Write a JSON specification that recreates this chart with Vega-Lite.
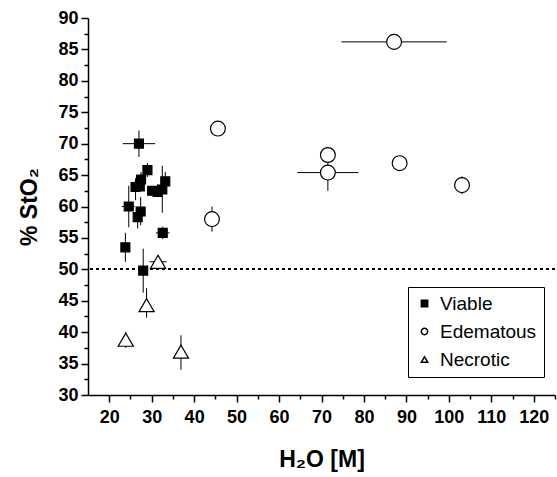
{
  "$schema": "https://vega.github.io/schema/vega-lite/v6.json",
  "width": 467,
  "height": 377,
  "autosize": {"type": "none"},
  "padding": {"left": 88, "top": 18, "right": 2, "bottom": 82},
  "background": "white",
  "config": {
    "view": {"stroke": null},
    "axis": {
      "labelFont": "Liberation Sans",
      "labelFontWeight": "bold",
      "labelFontSize": 18,
      "labelColor": "black",
      "titleFont": "Liberation Sans",
      "titleFontWeight": "bold",
      "titleFontSize": 23,
      "titleColor": "black",
      "domainColor": "black",
      "domainWidth": 1.5,
      "tickColor": "black",
      "tickWidth": 1.5,
      "tickSize": 7,
      "grid": false
    },
    "legend": {
      "labelFont": "Liberation Sans",
      "labelFontSize": 19,
      "labelColor": "black"
    }
  },
  "data": {
    "values": [
      {"type": "Viable", "x": 27.0, "y": 70.0, "xlo": 23.2, "xhi": 30.8, "ylo": 67.9, "yhi": 72.1},
      {"type": "Viable", "x": 29.0, "y": 65.8, "xlo": 28.3, "xhi": 29.7, "ylo": 64.7, "yhi": 66.9},
      {"type": "Viable", "x": 27.5, "y": 64.3, "ylo": 63.0, "yhi": 65.5},
      {"type": "Viable", "x": 26.2, "y": 63.1, "ylo": 61.0, "yhi": 64.5},
      {"type": "Viable", "x": 27.2, "y": 63.2},
      {"type": "Viable", "x": 33.2, "y": 64.0, "ylo": 62.5, "yhi": 65.5},
      {"type": "Viable", "x": 30.1, "y": 62.5, "xlo": 29.0, "xhi": 31.5},
      {"type": "Viable", "x": 31.4, "y": 62.3, "ylo": 61.5, "yhi": 63.5},
      {"type": "Viable", "x": 32.5, "y": 62.7, "ylo": 59.0, "yhi": 66.5},
      {"type": "Viable", "x": 24.6, "y": 60.0, "xlo": 23.0, "xhi": 26.0, "ylo": 56.7, "yhi": 63.3},
      {"type": "Viable", "x": 27.4, "y": 59.2, "ylo": 57.0, "yhi": 61.5},
      {"type": "Viable", "x": 26.7, "y": 58.3, "ylo": 56.5, "yhi": 60.0},
      {"type": "Viable", "x": 32.6, "y": 55.8, "xlo": 31.0, "xhi": 34.2, "ylo": 54.8, "yhi": 56.8},
      {"type": "Viable", "x": 23.8, "y": 53.5, "ylo": 51.2, "yhi": 55.8},
      {"type": "Viable", "x": 28.0, "y": 49.8, "ylo": 46.3, "yhi": 53.3},
      {"type": "Edematous", "x": 87.1, "y": 86.2, "xlo": 74.7, "xhi": 99.5, "ylo": 85.2, "yhi": 87.0},
      {"type": "Edematous", "x": 71.5, "y": 68.2, "ylo": 67.3, "yhi": 69.5},
      {"type": "Edematous", "x": 71.5, "y": 65.4, "xlo": 64.3, "xhi": 78.7, "ylo": 62.5, "yhi": 68.0},
      {"type": "Edematous", "x": 88.4, "y": 66.9, "xlo": 87.0, "xhi": 89.8, "ylo": 66.3, "yhi": 67.5},
      {"type": "Edematous", "x": 103.1, "y": 63.4, "ylo": 62.0, "yhi": 64.8},
      {"type": "Edematous", "x": 45.6, "y": 72.4, "ylo": 71.5, "yhi": 73.3},
      {"type": "Edematous", "x": 44.2, "y": 58.0, "ylo": 56.0, "yhi": 60.0},
      {"type": "Necrotic", "x": 28.8, "y": 44.3, "ylo": 42.3, "yhi": 47.0},
      {"type": "Necrotic", "x": 23.9, "y": 38.8, "ylo": 37.5, "yhi": 40.0},
      {"type": "Necrotic", "x": 36.9, "y": 36.9, "ylo": 34.0, "yhi": 39.5},
      {"type": "Necrotic", "x": 31.5, "y": 51.2, "xlo": 29.5, "xhi": 33.5}
    ]
  },
  "layer": [
    {
      "mark": {"type": "rule", "color": "black", "strokeDash": [3, 3], "strokeWidth": 0.8},
      "encoding": {
        "y": {"datum": 50, "type": "quantitative", "scale": {"domain": [30, 90], "nice": false, "zero": false}, "axis": null}
      }
    },
    {
      "transform": [{"filter": "isValid(datum.xlo)"}],
      "mark": {"type": "rule", "color": "black", "strokeWidth": 1},
      "encoding": {
        "x": {"field": "xlo", "type": "quantitative", "scale": {"domain": [15, 125], "nice": false, "zero": false},
              "axis": {"title": "H₂O [M]", "values": [20, 30, 40, 50, 60, 70, 80, 90, 100, 110, 120], "labelPadding": 6, "titlePadding": 22}},
        "x2": {"field": "xhi"},
        "y": {"field": "y", "type": "quantitative", "scale": {"domain": [30, 90], "nice": false, "zero": false},
              "axis": {"title": "% StO₂", "values": [30, 35, 40, 45, 50, 55, 60, 65, 70, 75, 80, 85, 90], "labelPadding": 3, "titlePadding": 16}}
      }
    },
    {
      "transform": [{"filter": "isValid(datum.ylo)"}],
      "mark": {"type": "rule", "color": "black", "strokeWidth": 1},
      "encoding": {
        "x": {"field": "x", "type": "quantitative", "axis": null},
        "y": {"field": "ylo", "type": "quantitative", "axis": null},
        "y2": {"field": "yhi"}
      }
    },
    {
      "transform": [{"filter": "datum.type === 'Viable'"}],
      "mark": {"type": "point", "filled": true, "stroke": "black", "strokeWidth": 1.2, "opacity": 1, "size": 80},
      "encoding": {
        "x": {"field": "x", "type": "quantitative", "axis": null},
        "y": {"field": "y", "type": "quantitative", "axis": null},
        "shape": {"field": "type", "type": "nominal", "title": null,
                  "scale": {"domain": ["Viable", "Edematous", "Necrotic"], "range": ["square", "circle", "triangle-up"]},
                  "legend": {"orient": "none", "legendX": 320, "legendY": 269, "strokeColor": "black", "padding": 7,
                             "symbolSize": 40, "rowPadding": 8, "labelOffset": 6, "symbolOffset": 0,
                             "encode": {"symbols": {"update": {"stroke": {"value": "black"}, "strokeWidth": {"value": 1}, "opacity": {"value": 1}}}}}},
        "fill": {"field": "type", "type": "nominal", "title": null,
                 "scale": {"domain": ["Viable", "Edematous", "Necrotic"], "range": ["black", "white", "white"]}}
      }
    },
    {
      "transform": [{"filter": "datum.type === 'Edematous'"}],
      "mark": {"type": "point", "filled": true, "stroke": "black", "strokeWidth": 1.2, "opacity": 1, "size": 220},
      "encoding": {
        "x": {"field": "x", "type": "quantitative", "axis": null},
        "y": {"field": "y", "type": "quantitative", "axis": null},
        "shape": {"field": "type", "type": "nominal"},
        "fill": {"field": "type", "type": "nominal"}
      }
    },
    {
      "transform": [{"filter": "datum.type === 'Necrotic'"}],
      "mark": {"type": "point", "filled": true, "stroke": "black", "strokeWidth": 1.2, "opacity": 1, "size": 230},
      "encoding": {
        "x": {"field": "x", "type": "quantitative", "axis": null},
        "y": {"field": "y", "type": "quantitative", "axis": null},
        "shape": {"field": "type", "type": "nominal"},
        "fill": {"field": "type", "type": "nominal"}
      }
    },
    {
      "mark": {"type": "point", "opacity": 0},
      "encoding": {
        "x": {"field": "x", "type": "quantitative",
              "axis": {"orient": "bottom", "title": null, "labels": false, "domain": false, "tickSize": 4,
                       "values": [25, 35, 45, 55, 65, 75, 85, 95, 105, 115, 125]}},
        "y": {"field": "y", "type": "quantitative",
              "axis": {"orient": "left", "title": null, "labels": false, "domain": false, "tickSize": 4,
                       "values": [32.5, 37.5, 42.5, 47.5, 52.5, 57.5, 62.5, 67.5, 72.5, 77.5, 82.5, 87.5]}}
      }
    }
  ],
  "resolve": {"axis": {"x": "independent", "y": "independent"}}
}
